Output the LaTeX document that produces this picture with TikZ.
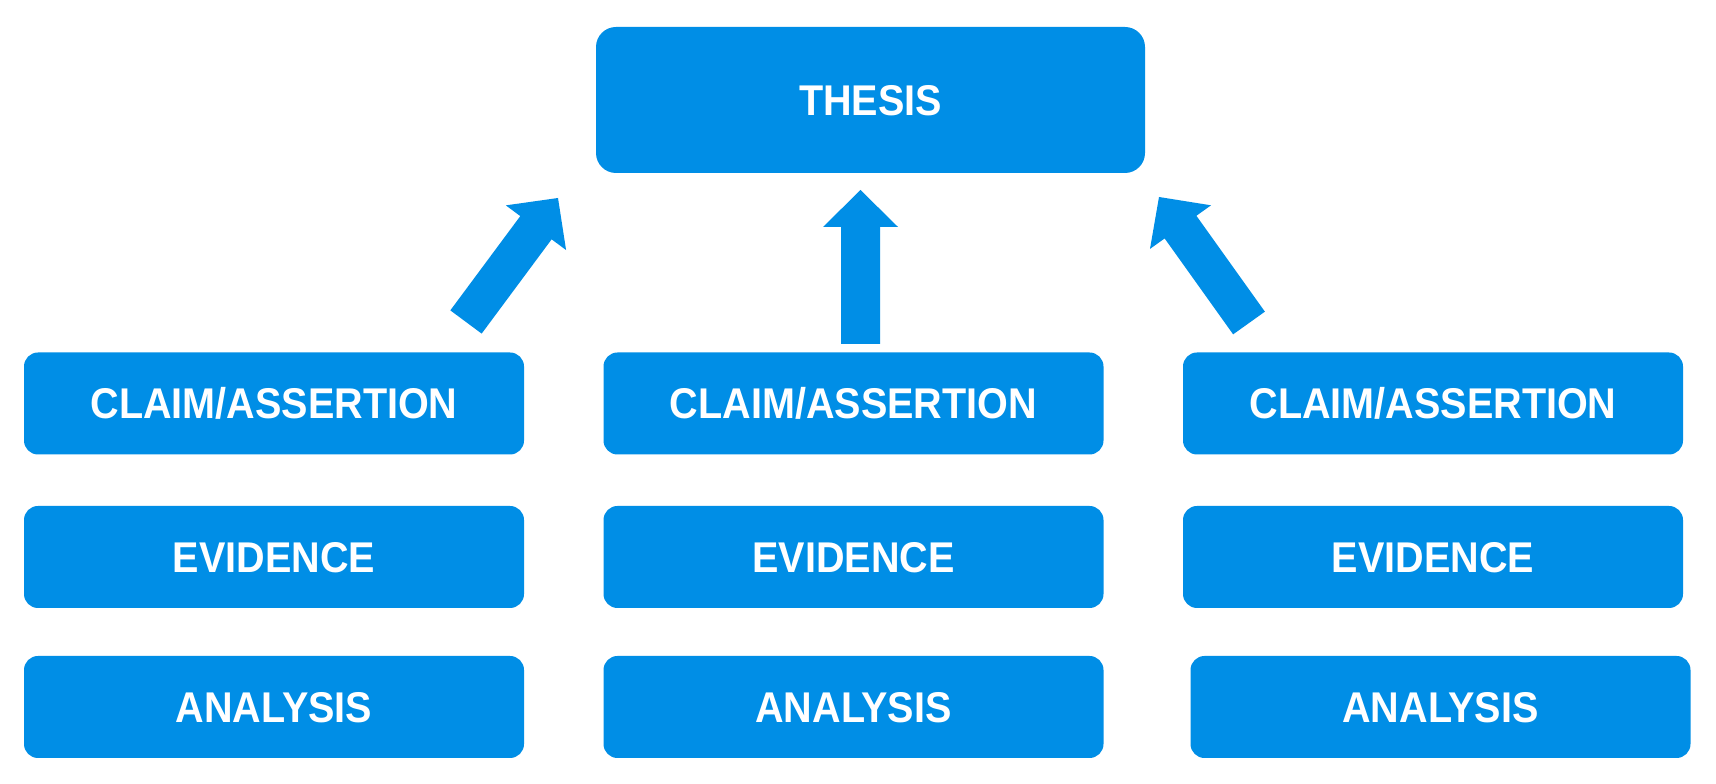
\documentclass[tikz,border=0pt]{standalone}
\usepackage{fontspec}
\setmainfont{Liberation Sans}[FakeStretch=0.92]
\usetikzlibrary{calc}
\definecolor{boxblue}{RGB}{0,142,230}
\newcommand\myblockarrow[2]{%
  \coordinate (#1-hb) at ($(#2)!37pt!(#1)$);
  \fill[arrowfill] ($(#1)!19.5pt!90:(#2)$)
    -- ($(#1-hb)!19.5pt!90:(#2)$)
    -- ($(#1-hb)!37.5pt!90:(#2)$)
    -- (#2)
    -- ($(#1-hb)!37.5pt!-90:(#2)$)
    -- ($(#1-hb)!19.5pt!-90:(#2)$)
    -- ($(#1)!19.5pt!-90:(#2)$)
    -- cycle;}
\begin{document}
\begin{tikzpicture}[x=1pt,y=1pt,
  blockbox/.style={fill=boxblue, draw=none, rounded corners=14pt, inner sep=0pt,
    minimum width=500pt, minimum height=102pt, text=white,
    font=\bfseries\fontsize{43}{43}\selectfont, text height=30.8pt, text depth=0pt},
  thesisbox/.style={blockbox, rounded corners=20pt, minimum width=549pt, minimum height=146pt},
  arrowfill/.style={fill=boxblue}]
\useasboundingbox[fill=white] (0,0) rectangle (1716,784);

\node[thesisbox] (thesis) at (870.5,684) {THESIS};

\node[blockbox] (c1) at (274,380.5) {CLAIM/ASSERTION};
\node[blockbox] (c2) at (853.5,380.5) {CLAIM/ASSERTION};
\node[blockbox] (c3) at (1433,380.5) {CLAIM/ASSERTION};

\node[blockbox] (e1) at (274,227) {EVIDENCE};
\node[blockbox] (e2) at (853.5,227) {EVIDENCE};
\node[blockbox] (e3) at (1433,227) {EVIDENCE};

\node[blockbox] (a1) at (274,77) {ANALYSIS};
\node[blockbox] (a2) at (853.5,77) {ANALYSIS};
\node[blockbox] (a3) at (1440.5,77) {ANALYSIS};

\coordinate (lt) at (466,462);
\coordinate (lh) at (558,586);
\coordinate (mt) at (860.5,440);
\coordinate (mh) at (860.5,594);
\coordinate (rt) at (1249,461);
\coordinate (rh) at (1159,587);

\myblockarrow{lt}{lh}
\myblockarrow{mt}{mh}
\myblockarrow{rt}{rh}
\end{tikzpicture}
\end{document}
